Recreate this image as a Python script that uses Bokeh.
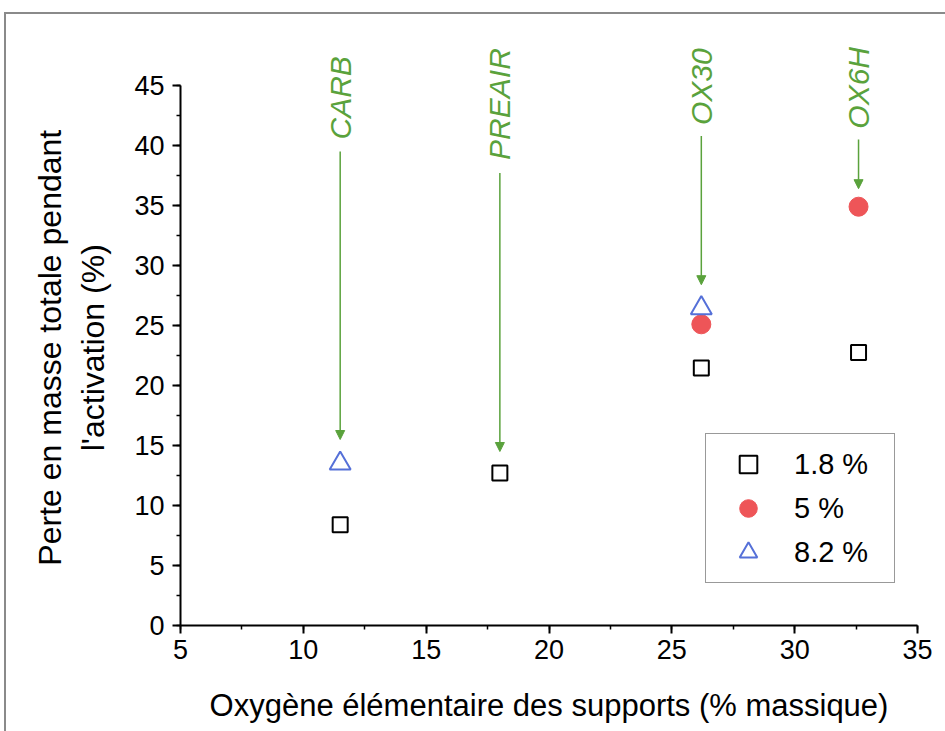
import math
from bokeh.plotting import figure
from bokeh.models import (Range1d, SingleIntervalTicker, Arrow, NormalHead,
                          Legend, LegendItem, ColumnDataSource)
from bokeh.core.properties import value
from bokeh.embed import file_html
from bokeh.resources import INLINE

# ---- data ----
x_18 = [11.5, 18.0, 26.2, 32.6]
y_18 = [8.4, 12.7, 21.45, 22.75]
x_5 = [26.2, 32.6]
y_5 = [25.1, 34.9]
x_82 = [11.5, 26.2]
y_82 = [13.5, 26.45]
series_labels = ["1.8 %", "5 %", "8.2 %"]

samples = ["CARB", "PREAIR", "OX30", "OX6H"]
sample_x = [11.5, 18.0, 26.2, 32.6]
arrow_top = [39.5, 37.7, 40.8, 40.5]
arrow_tip = [15.5, 14.5, 28.4, 36.4]
label_y = [40.5, 38.8, 41.7, 41.4]

y_axis_min, y_axis_max = 0, 45
x_ticks_interval = 5
y_ticks_interval = 5

FONT = "Liberation Sans"
GREEN = "#5aa23c"
NB = "\u00a0" * 5  # keeps the y label centred on the 0-45 axis

p = figure(width=945, height=731, output_backend="svg", toolbar_location=None,
           x_range=Range1d(5, 35), y_range=Range1d(0, 50),
           min_border_left=180, min_border_right=28, min_border_top=25,
           min_border_bottom=106)
p.outline_line_color = None
p.xgrid.visible = False
p.ygrid.visible = False
p.background_fill_color = "white"
p.border_fill_alpha = 0
p.styles = {
    "background": ("linear-gradient(#8a8a8a,#8a8a8a) 4px 12px / 100% 2px no-repeat, "
                   "linear-gradient(#8a8a8a,#8a8a8a) 4px 12px / 2px 100% no-repeat, white"),
}

p.xaxis.ticker = SingleIntervalTicker(interval=x_ticks_interval, num_minor_ticks=2)
p.yaxis.ticker = SingleIntervalTicker(interval=y_ticks_interval, num_minor_ticks=2)
p.yaxis.bounds = (y_axis_min, y_axis_max)
for ax in (p.xaxis[0], p.yaxis[0]):
    ax.axis_line_width = 2
    ax.axis_line_color = "black"
    ax.major_tick_line_width = 2
    ax.major_tick_line_color = "black"
    ax.minor_tick_line_width = 1.5
    ax.minor_tick_line_color = "black"
    ax.major_tick_in = 0
    ax.major_tick_out = 8
    ax.minor_tick_in = 0
    ax.minor_tick_out = 4
    ax.major_label_text_font = FONT
    ax.major_label_text_font_size = "27px"
    ax.major_label_text_color = "black"
    ax.axis_label_text_font = FONT
    ax.axis_label_text_font_style = "normal"
    ax.axis_label_text_color = "black"

p.xaxis.axis_label = "Oxygène élémentaire des supports (% massique)"
p.xaxis.axis_label_text_font_size = "31px"
p.xaxis.major_label_standoff = 6
p.xaxis.axis_label_standoff = 26
p.yaxis.axis_label = "Perte en masse totale pendant" + NB + "\nl'activation (%)" + NB
p.yaxis.axis_label_text_font_size = "32px"
p.yaxis.major_label_standoff = 8
p.yaxis.axis_label_standoff = 20

r18 = p.scatter(x_18, y_18, marker="square", size=15, fill_color=None,
                line_color="black", line_width=2)
r5 = p.scatter(x_5, y_5, marker="circle", size=19, fill_color="#ee5558",
               line_color="#ee5558")
r82 = p.scatter(x_82, y_82, marker="triangle", size=21, fill_color=None,
                line_color="#5570d8", line_width=2)

# annotations: arrows + rotated labels
for sx, ytop, ytip in zip(sample_x, arrow_top, arrow_tip):
    p.add_layout(Arrow(end=NormalHead(size=9, fill_color=GREEN, line_color=GREEN),
                       x_start=sx, y_start=ytop, x_end=sx, y_end=ytip,
                       line_color=GREEN, line_width=1.5))

lab_src = ColumnDataSource(dict(x=sample_x, y=label_y, text=samples))
p.text(x="x", y="y", text="text", source=lab_src, angle=math.pi / 2,
       text_align="left", text_baseline="middle",
       text_font=value(FONT), text_font_size="30px",
       text_font_style="italic", text_color=GREEN)

legend = Legend(items=[LegendItem(label=series_labels[0], renderers=[r18]),
                       LegendItem(label=series_labels[1], renderers=[r5]),
                       LegendItem(label=series_labels[2], renderers=[r82])],
                location=(525, 42), margin=0, padding=8, spacing=0,
                glyph_width=68, glyph_height=44, label_height=44,
                label_width=92, label_standoff=12,
                label_text_font=FONT, label_text_font_size="29px",
                label_text_color="black",
                border_line_color="#333333", border_line_width=1.5,
                background_fill_color="white", background_fill_alpha=1)
p.add_layout(legend)

open("out.html", "w").write(file_html(p, INLINE))
